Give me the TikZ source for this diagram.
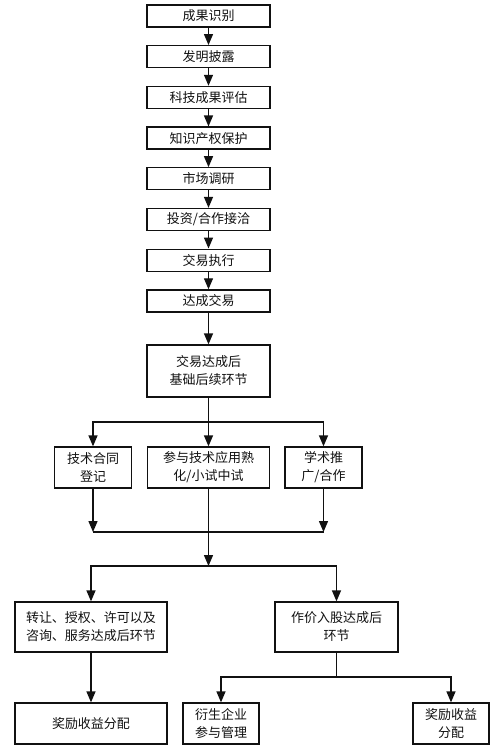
\documentclass[tikz,border=0pt]{standalone}
\usepackage{fontspec}
\setmainfont{Noto Sans CJK SC}
\usepackage{xcolor}
\usetikzlibrary{arrows.meta,positioning}
\definecolor{trait}{HTML}{111111}

\begin{document}
\begin{tikzpicture}[x=1pt, y=-1pt,
  boite/.style={draw=trait, line width=1.3pt, fill=white, inner sep=0pt, align=center, text=trait, font=\fontsize{13}{18}\selectfont},
  fleche/.style={draw=trait, line width=1.3pt, -{Triangle[width=9pt,length=11pt]}},
  ligne/.style={draw=trait, line width=1.3pt}]
  \useasboundingbox (0,0) rectangle (498,750);
  \fill[white] (0,0) rectangle (498,750);
  % chaine principale
  \foreach \i/\lab in {0/成果识别, 1/发明披露, 2/科技成果评估, 3/知识产权保护, 4/市场调研, 5/{投资/合作接洽}, 6/交易执行, 7/达成交易}
    \node[boite, minimum width=123pt, minimum height=22pt] (s\i) at (208.5,{16+40.7*\i}) {\lab};
  \foreach \a [count=\b] in {0,...,6}
    \draw[fleche] (s\a) -- (s\b);
  % apres la transaction
  \node[boite, minimum width=123pt, minimum height=52pt] (base) at (208.5,371) {交易达成后\\基础后续环节};
  \draw[fleche] (s7) -- (base);
  \node[boite, minimum width=77pt, minimum height=41pt] (t1) at (93,467.5) {技术合同\\登记};
  \node[boite, minimum width=122pt, minimum height=41pt] (t2) at (208.5,467.5) {参与技术应用熟\\化/小试中试};
  \node[boite, minimum width=77pt, minimum height=41pt] (t3) at (323.5,467.5) {学术推\\广/合作};
  \coordinate (j1) at (208.5,422);
  \draw[ligne] (base) -- (j1);
  \draw[fleche] (j1) -| (t1);
  \draw[fleche] (j1) -- (t2);
  \draw[fleche] (j1) -| (t3);
  % regroupement
  \coordinate (j2) at (208.5,532);
  \coordinate (j3) at (208.5,566);
  \draw[fleche] (t1) -- (t1 |- j2);
  \draw[fleche] (t3) -- (t3 |- j2);
  \draw[ligne] (t1 |- j2) -- (t3 |- j2);
  \draw[fleche] (t2) -- (j3);
  % deux voies
  \node[boite, minimum width=152pt, minimum height=50pt] (u1) at (91,627) {转让、授权、许可以及\\咨询、服务达成后环节};
  \node[boite, minimum width=123pt, minimum height=50pt] (u2) at (336.5,627) {作价入股达成后\\环节};
  \draw[ligne] (j3 -| u1) -- (j3 -| u2);
  \draw[fleche] (j3) -| (u1);
  \draw[fleche] (j3) -| (u2);
  % repartition
  \node[boite, minimum width=152pt, minimum height=41pt] (v1) at (91,723.5) {奖励收益分配};
  \draw[fleche] (u1) -- (v1);
  \node[boite, minimum width=76pt, minimum height=41pt] (v2) at (221,723.5) {衍生企业\\参与管理};
  \node[boite, minimum width=76pt, minimum height=41pt] (v3) at (451,723.5) {奖励收益\\分配};
  \coordinate (j4) at (336.5,677);
  \draw[ligne] (u2) -- (j4);
  \draw[ligne] (j4 -| v2) -- (j4 -| v3);
  \draw[fleche] (j4) -| (v2);
  \draw[fleche] (j4) -| (v3);
\end{tikzpicture}
\end{document}
